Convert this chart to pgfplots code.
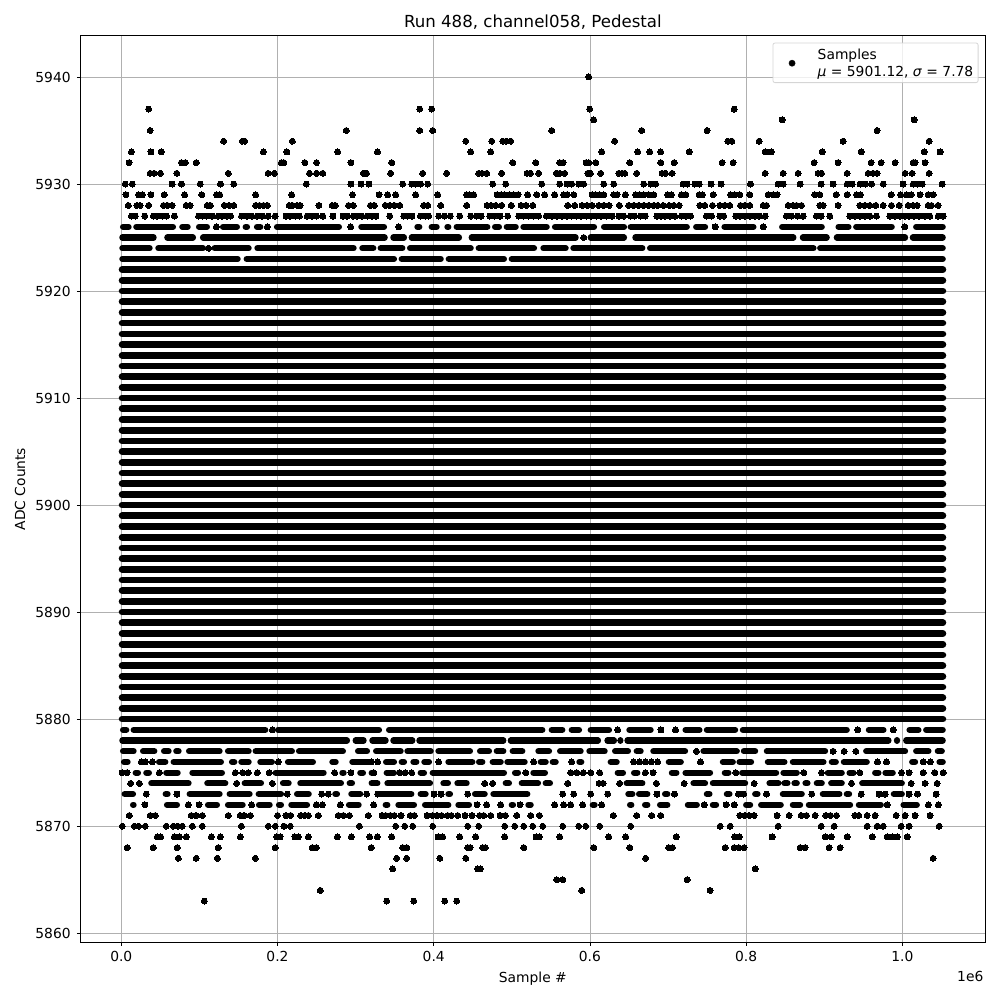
\documentclass[border=0pt]{standalone}
\usepackage{fontspec}
\setmainfont{DejaVu Sans}
\usepackage{pgfplots}
\pgfplotsset{compat=1.18}
\begin{document}
\begin{tikzpicture}[x=0.72bp,y=0.72bp]
\path[use as bounding box] (-80.4,-57.7) rectangle (919.6,942.3);
\begin{axis}[
  at={(0,0)},anchor=south west,scale only axis,
  width=651.53bp,height=652.68bp,
  xmin=-52370,xmax=1106290,ymin=5859.15,ymax=5943.85,
  xtick={0,200000,400000,600000,800000,1000000},
  xticklabels={0.0,0.2,0.4,0.6,0.8,1.0},
  scaled x ticks=false,
  ytick={5860,5870,5880,5890,5900,5910,5920,5930,5940},
  /pgf/number format/assume math mode=true,
  /pgf/number format/1000 sep={},
  y tick label style={/pgf/number format/fixed,xshift=-1bp},
  grid=major,
  grid style={color=black!31,line width=0.58bp},
  axis line style={line width=0.58bp},
  tick style={color=black,line width=0.58bp},
  major tick length=2.52bp,
  tick align=outside,tick pos=lower,
  xticklabel style={yshift=-0.5bp},
  unbounded coords=jump,
  clip=true,
  title={Run 488, channel058, Pedestal},
  title style={font=\fontsize{12}{14}\selectfont,yshift=-5.1bp},
  xlabel={Sample \#},ylabel={ADC Counts},
  xlabel style={yshift=-0.7bp},
  ylabel style={yshift=0.4bp},
  legend image code/.code={\fill[black,overlay,fill opacity=1] (12bp,-0.3bp) circle (2.16bp);\path (0,0) (28.2bp,0);},
  legend style={at={(0.9925,0.9925)},anchor=north east,
    draw=black!20,rounded corners=1.5bp,line width=0.58bp,
    fill=white,fill opacity=0.8,draw opacity=0.8,text opacity=1,
    inner xsep=1.5bp,inner ysep=1.5bp,font=\fontsize{10}{12}\selectfont},
  legend cell align=left,
]
\addplot[only marks,mark=*,mark size=2.16bp,black,mark options={draw=black,fill=black,line width=0pt}] coordinates {
(598.5e3,5940)
(35e3,5937)(382.1e3,5937)(397.4e3,5937)(599.7e3,5937)(784.7e3,5937)
(604.9e3,5936)(846.1e3,5936)(1015.1e3,5936)
(37e3,5935)(288e3,5935)(382.1e3,5935)(398.7e3,5935)(551.1e3,5935)(666.3e3,5935)(750.1e3,5935)(967.8e3,5935)
(131e3,5934)(155e3,5934)(158e3,5934)(219e3,5934)(441e3,5934)(474.3e3,5934)(488.3e3,5934)(493e3,5934)(498.6e3,5934)(631.7e3,5934)(776.6e3,5934)(781.7e3,5934)(816.7e3,5934)(924.2e3,5934)(1034.4e3,5934)
(13e3,5933)(38e3,5933)(51e3,5933)(182e3,5933)(212e3,5933)(277e3,5933)(328e3,5933)(447.4e3,5933)(473e3,5933)(615.1e3,5933)(661.2e3,5933)(676.6e3,5933)(690.6e3,5933)(727.1e3,5933)(824.4e3,5933)(832e3,5933)(897.4e3,5933)(947.3e3,5933)(1028e3,5933)(1048.4e3,5933)
(10e3,5932)(77e3,5932)(82e3,5932)(96e3,5932)(205e3,5932)(208e3,5932)(235e3,5932)(250e3,5932)(294e3,5932)(346.2e3,5932)(501.1e3,5932)(530.6e3,5932)(561.3e3,5932)(565.6e3,5932)(595e3,5932)(598.5e3,5932)(607.4e3,5932)(651e3,5932)(690.6e3,5932)(707.9e3,5932)(769.3e3,5932)(783.4e3,5932)(887.1e3,5932)(917.8e3,5932)(960.1e3,5932)(972.9e3,5932)(990.8e3,5932)(1013.9e3,5932)(1016.4e3,5932)(1029.2e3,5932)
(37e3,5931)(42e3,5931)(50e3,5931)(71e3,5931)(137e3,5931)(188e3,5931)(196e3,5931)(241e3,5931)(250e3,5931)(258e3,5931)(310e3,5931)(314e3,5931)(344.9e3,5931)(385.9e3,5931)(416.6e3,5931)(457.6e3,5931)(461.9e3,5931)(467.9e3,5931)(487e3,5931)(519.5e3,5931)(523.8e3,5931)(534.4e3,5931)(557.1e3,5931)(561.3e3,5931)(567.7e3,5931)(597.2e3,5931)(600.6e3,5931)(613.8e3,5931)(636.9e3,5931)(641.1e3,5931)(644.6e3,5931)(659.9e3,5931)(692.4e3,5931)(696.6e3,5931)(705.3e3,5931)(824.4e3,5931)(847.4e3,5931)(866.6e3,5931)(892.2e3,5931)(896.5e3,5931)(929.4e3,5931)(956.3e3,5931)(962.6e3,5931)(967.8e3,5931)(1003.6e3,5931)(1012.6e3,5931)(1034.4e3,5931)
(5e3,5930)(14e3,5930)(65e3,5930)(77e3,5930)(101e3,5930)(127e3,5930)(144e3,5930)(237e3,5930)(294e3,5930)(307e3,5930)(317e3,5930)(360.3e3,5930)(371.8e3,5930)(376.9e3,5930)(383.3e3,5930)(392.3e3,5930)(475.5e3,5930)(492.2e3,5930)(538.3e3,5930)(561.3e3,5930)(570.7e3,5930)(576.7e3,5930)(585.6e3,5930)(592e3,5930)(617.7e3,5930)(630.5e3,5930)(668.9e3,5930)(677.8e3,5930)(684.2e3,5930)(719.4e3,5930)(724.5e3,5930)(734.3e3,5930)(739.9e3,5930)(755.2e3,5930)(768e3,5930)(805.6e3,5930)(841e3,5930)(847.4e3,5930)(869.2e3,5930)(896.1e3,5930)(911.4e3,5930)(929.4e3,5930)(935.8e3,5930)(946e3,5930)(952.8e3,5930)(960.5e3,5930)(975.5e3,5930)(1001e3,5930)(1013.9e3,5930)(1019e3,5930)(1025.4e3,5930)(1051e3,5930)
(6e3,5929)(22e3,5929)(27e3,5929)(38e3,5929)(55e3,5929)(81e3,5929)(103e3,5929)(122e3,5929)(126e3,5929)(172e3,5929)(218e3,5929)(296e3,5929)(330e3,5929)(341.1e3,5929)(351.3e3,5929)(376.9e3,5929)(405.1e3,5929)(442.2e3,5929)(445.7e3,5929)(451.2e3,5929)(481.1e3,5929)(486.2e3,5929)(490.5e3,5929)(497.3e3,5929)(502.4e3,5929)(508e3,5929)(520.3e3,5929)(531.9e3,5929)(542.1e3,5929)(554.9e3,5929)(566.4e3,5929)(570.7e3,5929)(579.3e3,5929)(602.7e3,5929)(607e3,5929)(612.5e3,5929)(617.7e3,5929)(630.5e3,5929)(634.7e3,5929)(645.4e3,5929)(658.6e3,5929)(663.8e3,5929)(668.9e3,5929)(675.3e3,5929)(681.7e3,5929)(699.6e3,5929)(704.4e3,5929)(717.2e3,5929)(722.8e3,5929)(739.9e3,5929)(744.1e3,5929)(757.8e3,5929)(780e3,5929)(785.5e3,5929)(791.9e3,5929)(804.7e3,5929)(828.2e3,5929)(834.6e3,5929)(839.7e3,5929)(888e3,5929)(894.4e3,5929)(915.3e3,5929)(929.4e3,5929)(941.3e3,5929)(946.4e3,5929)(985.7e3,5929)(997.7e3,5929)(1005.3e3,5929)(1011.3e3,5929)(1022.8e3,5929)(1033.1e3,5929)(1039.5e3,5929)
(9e3,5928)(20e3,5928)(24e3,5928)(35e3,5928)(54e3,5928)(59e3,5928)(65e3,5928)(83e3,5928)(88e3,5928)(110e3,5928)(114e3,5928)(132e3,5928)(138e3,5928)(144e3,5928)(172e3,5928)(177e3,5928)(182e3,5928)(187e3,5928)(215e3,5928)(219e3,5928)(225e3,5928)(229e3,5928)(253e3,5928)(270e3,5928)(274e3,5928)(291e3,5928)(297e3,5928)(319e3,5928)(324e3,5928)(338.1e3,5928)(343.7e3,5928)(349.6e3,5928)(356.5e3,5928)(387.2e3,5928)(392.3e3,5928)(409e3,5928)(442.2e3,5928)(468.3e3,5928)(473.4e3,5928)(479.4e3,5928)(487e3,5928)(499.4e3,5928)(511.8e3,5928)(518.2e3,5928)(526.8e3,5928)(571.6e3,5928)(580.5e3,5928)(589.9e3,5928)(596.3e3,5928)(602.7e3,5928)(611.3e3,5928)(617.7e3,5928)(624.5e3,5928)(637.7e3,5928)(649.7e3,5928)(656.1e3,5928)(662.5e3,5928)(668.9e3,5928)(675.3e3,5928)(681.7e3,5928)(686.8e3,5928)(693.8e3,5928)(701.5e3,5928)(707.4e3,5928)(714.3e3,5928)(740.7e3,5928)(747.1e3,5928)(756.9e3,5928)(766.3e3,5928)(772.7e3,5928)(779.1e3,5928)(792.8e3,5928)(798.3e3,5928)(804.7e3,5928)(821.8e3,5928)(826.1e3,5928)(853.8e3,5928)(860.2e3,5928)(864.5e3,5928)(870.9e3,5928)(894.4e3,5928)(898.6e3,5928)(917.8e3,5928)(945.6e3,5928)(952e3,5928)(958.4e3,5928)(966.1e3,5928)(975.5e3,5928)(986.1e3,5928)(996e3,5928)(1007.5e3,5928)(1013.9e3,5928)(1019e3,5928)(1033.1e3,5928)(1037.3e3,5928)(1045.9e3,5928)
(13e3,5927)(18e3,5927)(30e3,5927)(41e3,5927)(46e3,5927)(53e3,5927)(58e3,5927)(68e3,5927)(99e3,5927)(104e3,5927)(109e3,5927)(116e3,5927)(124e3,5927)(129e3,5927)(135e3,5927)(140e3,5927)(154e3,5927)(161e3,5927)(167e3,5927)(174e3,5927)(180e3,5927)(188e3,5927)(197e3,5927)(211e3,5927)(216e3,5927)(223e3,5927)(228e3,5927)(238e3,5927)(244e3,5927)(250e3,5927)(258e3,5927)(271e3,5927)(284e3,5927)(289e3,5927)(297e3,5927)(302e3,5927)(308e3,5927)(315e3,5927)(321e3,5927)(326e3,5927)(343.7e3,5927)(361.6e3,5927)(366.7e3,5927)(372.2e3,5927)(382.9e3,5927)(389.3e3,5927)(393.6e3,5927)(406.4e3,5927)(413.6e3,5927)(421.3e3,5927)(433.3e3,5927)(447.4e3,5927)(454.6e3,5927)(460.6e3,5927)(471.7e3,5927)(477.7e3,5927)(484.9e3,5927)(494.7e3,5927)(508.8e3,5927)(515.2e3,5927)(521.6e3,5927)(528e3,5927)(534.4e3,5927)(544.2e3,5927)(551.5e3,5927)(557.9e3,5927)(564.3e3,5927)(570.7e3,5927)(576.3e3,5927)(582.7e3,5927)(588.6e3,5927)(595.5e3,5927)(601.4e3,5927)(608.3e3,5927)(614.2e3,5927)(621e3,5927)(628.3e3,5927)(636.9e3,5927)(643.3e3,5927)(651.8e3,5927)(656.9e3,5927)(664.6e3,5927)(671e3,5927)(685.9e3,5927)(691.1e3,5927)(695.9e3,5927)(702.3e3,5927)(708.7e3,5927)(717.2e3,5927)(722.8e3,5927)(728.8e3,5927)(749.3e3,5927)(755.7e3,5927)(766.3e3,5927)(771.4e3,5927)(786.8e3,5927)(791.9e3,5927)(798.3e3,5927)(804.7e3,5927)(811.1e3,5927)(816.7e3,5927)(824.4e3,5927)(851.7e3,5927)(858.1e3,5927)(865.8e3,5927)(873e3,5927)(890.1e3,5927)(896.1e3,5927)(907.2e3,5927)(932.8e3,5927)(939.2e3,5927)(945.6e3,5927)(952e3,5927)(958.4e3,5927)(966.9e3,5927)(984e3,5927)(990.4e3,5927)(996.8e3,5927)(1003.2e3,5927)(1008.7e3,5927)(1015.1e3,5927)(1021.5e3,5927)(1028.8e3,5927)(1035.2e3,5927)(1045.9e3,5927)(1052.3e3,5927)
(121.7e3,5926)(187e3,5926)(293.7e3,5926)(355.2e3,5926)(760.3e3,5926)(821.8e3,5926)(1003.2e3,5926)
(592.1e3,5925)(111.8e3,5924)
(193.4e3,5879)(635.6e3,5879)(691e3,5879)(709.6e3,5879)(943e3,5879)(988.3e3,5879)
(736.4e3,5877)(911.4e3,5877)(925.5e3,5877)(940.5e3,5877)
(25.6e3,5876)(30.8e3,5876)(39.7e3,5876)(201.1e3,5876)(320.2e3,5876)(328.3e3,5876)(406.4e3,5876)(528e3,5876)(576.7e3,5876)(656e3,5876)(663.7e3,5876)(671.4e3,5876)(678.7e3,5876)(686.8e3,5876)(741.6e3,5876)(968.2e3,5876)(979.7e3,5876)(1026.7e3,5876)(1036e3,5876)
(1e3,5875)(7.3e3,5875)(48.7e3,5875)(146e3,5875)(155.4e3,5875)(162.6e3,5875)(174.2e3,5875)(189.5e3,5875)(273.2e3,5875)(294.1e3,5875)(323.2e3,5875)(356.5e3,5875)(363.7e3,5875)(371.8e3,5875)(517.8e3,5875)(575.4e3,5875)(583.1e3,5875)(591.6e3,5875)(601e3,5875)(612.5e3,5875)(671e3,5875)(680.8e3,5875)(786.8e3,5875)(873.9e3,5875)(896.5e3,5875)(945.6e3,5875)(998.9e3,5875)(1008.7e3,5875)(1026.7e3,5875)(1041.6e3,5875)(1052.3e3,5875)
(12e3,5874)(23.1e3,5874)(147.7e3,5874)(193.4e3,5874)(465.3e3,5874)(475.5e3,5874)(571.6e3,5874)(611.7e3,5874)(616.8e3,5874)(638.1e3,5874)(685.1e3,5874)(720.7e3,5874)(810.3e3,5874)(934.9e3,5874)(1011.3e3,5874)(1029.2e3,5874)(1044.6e3,5874)
(32e3,5873)(71.3e3,5873)(212.6e3,5873)(256.5e3,5873)(265.1e3,5873)(314.1e3,5873)(328.2e3,5873)(400.4e3,5873)(409.4e3,5873)(443.5e3,5873)(565.2e3,5873)(579.2e3,5873)(601e3,5873)(622.8e3,5873)(685.9e3,5873)(708.3e3,5873)(790.2e3,5873)(797e3,5873)(826.1e3,5873)(884.1e3,5873)(947.3e3,5873)(970.3e3,5873)(978e3,5873)(1008.7e3,5873)(1019.4e3,5873)(1043.3e3,5873)
(30.3e3,5872)(85.8e3,5872)(99.5e3,5872)(166.9e3,5872)(249.7e3,5872)(257.4e3,5872)(280.4e3,5872)(323.1e3,5872)(455.5e3,5872)(467.8e3,5872)(485.8e3,5872)(510.5e3,5872)(554.9e3,5872)(566.4e3,5872)(575.4e3,5872)(590.8e3,5872)(615.1e3,5872)(746.3e3,5872)(774.4e3,5872)(784.7e3,5872)(980.6e3,5872)(1033.5e3,5872)(1046.3e3,5872)
(10.3e3,5871)(37.1e3,5871)(43.5e3,5871)(89.6e3,5871)(95.6e3,5871)(103.7e3,5871)(137e3,5871)(152.3e3,5871)(157.1e3,5871)(165.2e3,5871)(200.1e3,5871)(210.8e3,5871)(216.8e3,5871)(229.8e3,5871)(234.9e3,5871)(239.5e3,5871)(252.3e3,5871)(277.9e3,5871)(284.3e3,5871)(292e3,5871)(316.3e3,5871)(333.8e3,5871)(338.5e3,5871)(344.5e3,5871)(349.6e3,5871)(358.2e3,5871)(370.1e3,5871)(375.2e3,5871)(391.5e3,5871)(398.7e3,5871)(404.3e3,5871)(410.2e3,5871)(417.9e3,5871)(422.6e3,5871)(430.7e3,5871)(440.1e3,5871)(449.1e3,5871)(458.9e3,5871)(464e3,5871)(473e3,5871)(484.9e3,5871)(491.8e3,5871)(506.3e3,5871)(524.2e3,5871)(535.3e3,5871)(630e3,5871)(659.9e3,5871)(679.1e3,5871)(690.6e3,5871)(791.9e3,5871)(798.3e3,5871)(803.9e3,5871)(810.3e3,5871)(839.7e3,5871)(855.1e3,5871)(870.5e3,5871)(877.3e3,5871)(888.4e3,5871)(902e3,5871)(908e3,5871)(915.7e3,5871)(939.2e3,5871)(944.3e3,5871)(955e3,5871)(965.2e3,5871)(992.1e3,5871)(1003.6e3,5871)(1016.4e3,5871)(1035.6e3,5871)
(1.3e3,5870)(16.7e3,5870)(22.2e3,5870)(30.7e3,5870)(57.6e3,5870)(66.6e3,5870)(72.2e3,5870)(78.1e3,5870)(91e3,5870)(103.7e3,5870)(153.7e3,5870)(188.2e3,5870)(197.2e3,5870)(208.3e3,5870)(216.4e3,5870)(304.8e3,5870)(351.3e3,5870)(362.9e3,5870)(373.1e3,5870)(398.7e3,5870)(443.5e3,5870)(457.6e3,5870)(490.9e3,5870)(503.7e3,5870)(515.2e3,5870)(526.8e3,5870)(539.6e3,5870)(565.2e3,5870)(585.6e3,5870)(594.6e3,5870)(612.5e3,5870)(652.2e3,5870)(766.8e3,5870)(779.6e3,5870)(841e3,5870)(896.1e3,5870)(912.7e3,5870)(955e3,5870)(967.8e3,5870)(975.5e3,5870)(998.5e3,5870)(1008.7e3,5870)(1047.2e3,5870)
(46.1e3,5869)(50.4e3,5869)(67.9e3,5869)(74.3e3,5869)(83.2e3,5869)(115.3e3,5869)(126.8e3,5869)(152.4e3,5869)(198.9e3,5869)(203.2e3,5869)(222.4e3,5869)(226.7e3,5869)(239.5e3,5869)(276.6e3,5869)(294.5e3,5869)(318e3,5869)(327.8e3,5869)(346.2e3,5869)(405.5e3,5869)(411.5e3,5869)(433.3e3,5869)(453.8e3,5869)(490.9e3,5869)(531e3,5869)(535.3e3,5869)(561.3e3,5869)(624.1e3,5869)(645.8e3,5869)(710.4e3,5869)(785.5e3,5869)(791.1e3,5869)(833.3e3,5869)(901.2e3,5869)(908.9e3,5869)(929.4e3,5869)(961.4e3,5869)(980.6e3,5869)(987.4e3,5869)(993.4e3,5869)(1006.2e3,5869)
(7.7e3,5868)(41e3,5868)(71.7e3,5868)(124.2e3,5868)(197.2e3,5868)(244.6e3,5868)(249.7e3,5868)(320.1e3,5868)(360.3e3,5868)(365.4e3,5868)(443.5e3,5868)(446.5e3,5868)(462.7e3,5868)(466.1e3,5868)(515.2e3,5868)(604.9e3,5868)(651e3,5868)(700.9e3,5868)(705.7e3,5868)(773.2e3,5868)(784.7e3,5868)(790.6e3,5868)(797.5e3,5868)(869.2e3,5868)(875.6e3,5868)(906.3e3,5868)(920.4e3,5868)
(73e3,5867)(96e3,5867)(123e3,5867)(171.6e3,5867)(352.6e3,5867)(365.4e3,5867)(407.7e3,5867)(441e3,5867)(671.4e3,5867)(1039.5e3,5867)
(347.5e3,5866)(456.3e3,5866)(459.7e3,5866)(811.6e3,5866)
(557.5e3,5865)(565.2e3,5865)(724.5e3,5865)
(254.8e3,5864)(589.5e3,5864)(753.9e3,5864)
(106.3e3,5863)(339.8e3,5863)(374.4e3,5863)(414.1e3,5863)(429.4e3,5863)
};
\addlegendentry{\begin{tabular}{@{}l@{}}Samples\\\textit{μ} = 5901.12, \textit{σ} = 7.78\rule[-14.8bp]{0pt}{14.8bp}\end{tabular}}
% sparse rows drawn as runs of overlapping samples
\addplot[forget plot,black,line width=4.4bp,line cap=round] coordinates {
(2.2e3,5926)(9.4e3,5926)(0,nan)(19.2e3,5926)(66.2e3,5926)(0,nan)(78.1e3,5926)(85e3,5926)(0,nan)(99.5e3,5926)(109.7e3,5926)(0,nan)(130.2e3,5926)(148.1e3,5926)(0,nan)(159.2e3,5926)(161e3,5926)(0,nan)(173.7e3,5926)(178e3,5926)(0,nan)(199.3e3,5926)(278.7e3,5926)(0,nan)(307.3e3,5926)(336.4e3,5926)(0,nan)(379.1e3,5926)(381.6e3,5926)(0,nan)(397.4e3,5926)(403.8e3,5926)(0,nan)(417.5e3,5926)(418.8e3,5926)(0,nan)(429.4e3,5926)(468.7e3,5926)(0,nan)(478.5e3,5926)(483.6e3,5926)(0,nan)(493.5e3,5926)(505e3,5926)(0,nan)(514.8e3,5926)(544.7e3,5926)(0,nan)(555.3e3,5926)(605.3e3,5926)(0,nan)(618.1e3,5926)(643.7e3,5926)(0,nan)(652.2e3,5926)(724.1e3,5926)(0,nan)(736e3,5926)(747.5e3,5926)(0,nan)(772.3e3,5926)(809.4e3,5926)(0,nan)(846.1e3,5926)(896.9e3,5926)(0,nan)(918.3e3,5926)(931.1e3,5926)(0,nan)(940.9e3,5926)(986.5e3,5926)(0,nan)(1017.7e3,5926)(1051.8e3,5926)(0,nan)
(1.3e3,5925)(41.4e3,5925)(0,nan)(58.9e3,5925)(91.8e3,5925)(0,nan)(104.6e3,5925)(337.3e3,5925)(0,nan)(348.3e3,5925)(362e3,5925)(0,nan)(371.8e3,5925)(432.4e3,5925)(0,nan)(448.6e3,5925)(581.8e3,5925)(0,nan)(601e3,5925)(643.7e3,5925)(0,nan)(658.2e3,5925)(860.6e3,5925)(0,nan)(872.6e3,5925)(903.3e3,5925)(0,nan)(916.1e3,5925)(1003.6e3,5925)(0,nan)(1013.4e3,5925)(1051.8e3,5925)(0,nan)
(1.3e3,5924)(36.3e3,5924)(0,nan)(47.4e3,5924)(104.6e3,5924)(0,nan)(119.5e3,5924)(163.1e3,5924)(0,nan)(174.2e3,5924)(297.5e3,5924)(0,nan)(308.6e3,5924)(322.7e3,5924)(0,nan)(332.1e3,5924)(359.9e3,5924)(0,nan)(369.7e3,5924)(447.4e3,5924)(0,nan)(457.6e3,5924)(528.5e3,5924)(0,nan)(540.4e3,5924)(569e3,5924)(0,nan)(578.8e3,5924)(667.2e3,5924)(0,nan)(677e3,5924)(886.3e3,5924)(0,nan)(894.8e3,5924)(1051.8e3,5924)(0,nan)
(1.3e3,5923)(149e3,5923)(0,nan)(160.5e3,5923)(349.2e3,5923)(0,nan)(359e3,5923)(409e3,5923)(0,nan)(419.2e3,5923)(490e3,5923)(0,nan)(499.9e3,5923)(1051.8e3,5923)(0,nan)
(2.2e3,5879)(6.4e3,5879)(0,nan)(15.8e3,5879)(184.4e3,5879)(0,nan)(200.6e3,5879)(330e3,5879)(0,nan)(342.8e3,5879)(539.1e3,5879)(0,nan)(551.1e3,5879)(564.7e3,5879)(0,nan)(576.7e3,5879)(586.1e3,5879)(0,nan)(601e3,5879)(624.5e3,5879)(0,nan)(650.5e3,5879)(677.8e3,5879)(0,nan)(722.4e3,5879)(740.3e3,5879)(0,nan)(749.7e3,5879)(786e3,5879)(0,nan)(795.8e3,5879)(928.9e3,5879)(0,nan)(957.1e3,5879)(975.9e3,5879)(0,nan)(1009.2e3,5879)(1020.7e3,5879)(0,nan)(1030.5e3,5879)(1051.8e3,5879)(0,nan)
(1.3e3,5878)(289e3,5878)(0,nan)(300e3,5878)(310.3e3,5878)(0,nan)(321.4e3,5878)(338.5e3,5878)(0,nan)(348.3e3,5878)(372.7e3,5878)(0,nan)(381.6e3,5878)(489.2e3,5878)(0,nan)(498.6e3,5878)(610.4e3,5878)(0,nan)(622.4e3,5878)(630.9e3,5878)(0,nan)(639e3,5878)(639.1e3,5878)(0,nan)(648e3,5878)(982.3e3,5878)(0,nan)(993e3,5878)(993.4e3,5878)(0,nan)(1004.9e3,5878)(1051.8e3,5878)(0,nan)
(2.2e3,5877)(15.8e3,5877)(0,nan)(27.8e3,5877)(42.3e3,5877)(0,nan)(54.7e3,5877)(60.6e3,5877)(0,nan)(70.4e3,5877)(73.4e3,5877)(0,nan)(86.7e3,5877)(125.9e3,5877)(0,nan)(136.6e3,5877)(163.1e3,5877)(0,nan)(172e3,5877)(218.5e3,5877)(0,nan)(227.5e3,5877)(283.8e3,5877)(0,nan)(303.1e3,5877)(314.6e3,5877)(0,nan)(326.2e3,5877)(357.7e3,5877)(0,nan)(366.3e3,5877)(396.2e3,5877)(0,nan)(406e3,5877)(446.5e3,5877)(0,nan)(459.3e3,5877)(470.8e3,5877)(0,nan)(480.7e3,5877)(489.2e3,5877)(0,nan)(501.1e3,5877)(513.5e3,5877)(0,nan)(534e3,5877)(547.7e3,5877)(0,nan)(561.8e3,5877)(588.2e3,5877)(0,nan)(599.3e3,5877)(618.9e3,5877)(0,nan)(632.2e3,5877)(648.8e3,5877)(0,nan)(659.9e3,5877)(665e3,5877)(0,nan)(681.2e3,5877)(721.9e3,5877)(0,nan)(745.4e3,5877)(788.1e3,5877)(0,nan)(797.1e3,5877)(811.6e3,5877)(0,nan)(826.5e3,5877)(901.2e3,5877)(0,nan)(953.7e3,5877)(1003.6e3,5877)(0,nan)(1017.7e3,5877)(1033.5e3,5877)(0,nan)(1045.4e3,5877)(1050.6e3,5877)(0,nan)
(3.4e3,5876)(8.1e3,5876)(0,nan)(48.3e3,5876)(56.4e3,5876)(0,nan)(67e3,5876)(127.6e3,5876)(0,nan)(141.7e3,5876)(144.7e3,5876)(0,nan)(153.7e3,5876)(163.1e3,5876)(0,nan)(178e3,5876)(192.9e3,5876)(0,nan)(213.4e3,5876)(245.4e3,5876)(0,nan)(270.2e3,5876)(274.5e3,5876)(0,nan)(295.8e3,5876)(318.8e3,5876)(0,nan)(339e3,5876)(349.2e3,5876)(0,nan)(359e3,5876)(362e3,5876)(0,nan)(374e3,5876)(377.8e3,5876)(0,nan)(388e3,5876)(394e3,5876)(0,nan)(418.8e3,5876)(449.5e3,5876)(0,nan)(458e3,5876)(462.3e3,5876)(0,nan)(475.5e3,5876)(485.8e3,5876)(0,nan)(494.3e3,5876)(516.5e3,5876)(0,nan)(537e3,5876)(543.4e3,5876)(0,nan)(552.4e3,5876)(556.2e3,5876)(0,nan)(586.5e3,5876)(589e3,5876)(0,nan)(626.6e3,5876)(634.3e3,5876)(0,nan)(701e3,5876)(716.4e3,5876)(0,nan)(770.2e3,5876)(783e3,5876)(0,nan)(791.5e3,5876)(806.4e3,5876)(0,nan)(827.8e3,5876)(849.1e3,5876)(0,nan)(859.8e3,5876)(899.1e3,5876)(0,nan)(909.7e3,5876)(914.9e3,5876)(0,nan)(925.1e3,5876)(954.5e3,5876)(0,nan)(1012.6e3,5876)(1016.4e3,5876)(0,nan)(1047.6e3,5876)(1051.8e3,5876)(0,nan)
(18.4e3,5875)(21.4e3,5875)(0,nan)(32e3,5875)(35.4e3,5875)(0,nan)(57.6e3,5875)(72.2e3,5875)(0,nan)(91e3,5875)(128.9e3,5875)(0,nan)(197.6e3,5875)(259.1e3,5875)(0,nan)(283e3,5875)(284.7e3,5875)(0,nan)(306e3,5875)(309.5e3,5875)(0,nan)(320.5e3,5875)(323.1e3,5875)(0,nan)(339.8e3,5875)(349.2e3,5875)(0,nan)(383.3e3,5875)(387.6e3,5875)(0,nan)(398.7e3,5875)(490e3,5875)(0,nan)(504.1e3,5875)(508e3,5875)(0,nan)(527.6e3,5875)(542.5e3,5875)(0,nan)(635.6e3,5875)(642.4e3,5875)(0,nan)(656.5e3,5875)(660.8e3,5875)(0,nan)(704.9e3,5875)(710.8e3,5875)(0,nan)(722.4e3,5875)(753.9e3,5875)(0,nan)(772.7e3,5875)(777.4e3,5875)(0,nan)(794.9e3,5875)(838.5e3,5875)(0,nan)(847.8e3,5875)(864.9e3,5875)(0,nan)(904.6e3,5875)(922.5e3,5875)(0,nan)(932.4e3,5875)(937.5e3,5875)(0,nan)(965.2e3,5875)(969.5e3,5875)(0,nan)(978.4e3,5875)(987.8e3,5875)(0,nan)
(38.4e3,5874)(86.2e3,5874)(0,nan)(110.1e3,5874)(133.2e3,5874)(0,nan)(158e3,5874)(178.9e3,5874)(0,nan)(207e3,5874)(214.3e3,5874)(0,nan)(229.2e3,5874)(281.3e3,5874)(0,nan)(292.4e3,5874)(295.4e3,5874)(0,nan)(320.5e3,5874)(327.9e3,5874)(0,nan)(340.7e3,5874)(395.3e3,5874)(0,nan)(412.4e3,5874)(418.3e3,5874)(0,nan)(430.3e3,5874)(442.2e3,5874)(0,nan)(492.2e3,5874)(496.4e3,5874)(0,nan)(512.7e3,5874)(533.6e3,5874)(0,nan)(543.4e3,5874)(548.9e3,5874)(0,nan)(647.1e3,5874)(667.2e3,5874)(0,nan)(732.6e3,5874)(747.5e3,5874)(0,nan)(757.4e3,5874)(798.8e3,5874)(0,nan)(829.9e3,5874)(841.4e3,5874)(0,nan)(849.1e3,5874)(853e3,5874)(0,nan)(861.9e3,5874)(864.9e3,5874)(0,nan)(876e3,5874)(878.6e3,5874)(0,nan)(890.5e3,5874)(896.9e3,5874)(0,nan)(908.9e3,5874)(922.5e3,5874)(0,nan)(948.6e3,5874)(999.4e3,5874)(0,nan)
(4.3e3,5873)(15e3,5873)(0,nan)(56.8e3,5873)(59.3e3,5873)(0,nan)(87.5e3,5873)(125.9e3,5873)(0,nan)(138.7e3,5873)(164.3e3,5873)(0,nan)(175.9e3,5873)(204.5e3,5873)(0,nan)(225e3,5873)(240e3,5873)(0,nan)(274e3,5873)(276.2e3,5873)(0,nan)(294.5e3,5873)(306e3,5873)(0,nan)(329.1e3,5873)(371.4e3,5873)(0,nan)(383.3e3,5873)(389.7e3,5873)(0,nan)(418.8e3,5873)(420.9e3,5873)(0,nan)(452.9e3,5873)(465.3e3,5873)(0,nan)(476.4e3,5873)(519.9e3,5873)(0,nan)(649.2e3,5873)(654.4e3,5873)(0,nan)(662.9e3,5873)(673.6e3,5873)(0,nan)(696.2e3,5873)(699.2e3,5873)(0,nan)(749.7e3,5873)(753.1e3,5873)(0,nan)(775.3e3,5873)(778.7e3,5873)(0,nan)(811.6e3,5873)(814.6e3,5873)(0,nan)(847e3,5873)(871.3e3,5873)(0,nan)(898.2e3,5873)(919.5e3,5873)(0,nan)(928.9e3,5873)(931.9e3,5873)(0,nan)(989.1e3,5873)(999.4e3,5873)(0,nan)
(15e3,5872)(15.8e3,5872)(0,nan)(58.5e3,5872)(71.3e3,5872)(0,nan)(111e3,5872)(122.5e3,5872)(0,nan)(136.6e3,5872)(155.4e3,5872)(0,nan)(176.3e3,5872)(190e3,5872)(0,nan)(201.9e3,5872)(204.5e3,5872)(0,nan)(217.7e3,5872)(237.8e3,5872)(0,nan)(291.5e3,5872)(303.9e3,5872)(0,nan)(338.5e3,5872)(340.7e3,5872)(0,nan)(354.8e3,5872)(374.8e3,5872)(0,nan)(388.9e3,5872)(418.8e3,5872)(0,nan)(431.6e3,5872)(445.2e3,5872)(0,nan)(499.9e3,5872)(501.6e3,5872)(0,nan)(521.2e3,5872)(524.2e3,5872)(0,nan)(603.6e3,5872)(606.1e3,5872)(0,nan)(651.4e3,5872)(653.1e3,5872)(0,nan)(670.6e3,5872)(673.6e3,5872)(0,nan)(689.8e3,5872)(699.2e3,5872)(0,nan)(725.4e3,5872)(736.9e3,5872)(0,nan)(757.4e3,5872)(761.6e3,5872)(0,nan)(800e3,5872)(805.2e3,5872)(0,nan)(819.2e3,5872)(844.4e3,5872)(0,nan)(859.8e3,5872)(869.2e3,5872)(0,nan)(880.3e3,5872)(933.2e3,5872)(0,nan)(944.3e3,5872)(972.5e3,5872)(0,nan)(1001.5e3,5872)(1018.6e3,5872)
};
% the levels that are solid from end to end
\addplot[forget plot,black,line width=4.8bp,line cap=round] coordinates {
(1e3,5880)(1052e3,5880)(0,nan)(1e3,5881)(1052e3,5881)(0,nan)(1e3,5882)(1052e3,5882)(0,nan)(1e3,5883)(1052e3,5883)(0,nan)(1e3,5884)(1052e3,5884)(0,nan)(1e3,5885)(1052e3,5885)(0,nan)(1e3,5886)(1052e3,5886)(0,nan)(1e3,5887)(1052e3,5887)(0,nan)(1e3,5888)(1052e3,5888)(0,nan)(1e3,5889)(1052e3,5889)(0,nan)
(1e3,5890)(1052e3,5890)(0,nan)(1e3,5891)(1052e3,5891)(0,nan)(1e3,5892)(1052e3,5892)(0,nan)(1e3,5893)(1052e3,5893)(0,nan)(1e3,5894)(1052e3,5894)(0,nan)(1e3,5895)(1052e3,5895)(0,nan)(1e3,5896)(1052e3,5896)(0,nan)(1e3,5897)(1052e3,5897)(0,nan)(1e3,5898)(1052e3,5898)(0,nan)(1e3,5899)(1052e3,5899)(0,nan)
(1e3,5900)(1052e3,5900)(0,nan)(1e3,5901)(1052e3,5901)(0,nan)(1e3,5902)(1052e3,5902)(0,nan)(1e3,5903)(1052e3,5903)(0,nan)(1e3,5904)(1052e3,5904)(0,nan)(1e3,5905)(1052e3,5905)(0,nan)(1e3,5906)(1052e3,5906)(0,nan)(1e3,5907)(1052e3,5907)(0,nan)(1e3,5908)(1052e3,5908)(0,nan)(1e3,5909)(1052e3,5909)(0,nan)
(1e3,5910)(1052e3,5910)(0,nan)(1e3,5911)(1052e3,5911)(0,nan)(1e3,5912)(1052e3,5912)(0,nan)(1e3,5913)(1052e3,5913)(0,nan)(1e3,5914)(1052e3,5914)(0,nan)(1e3,5915)(1052e3,5915)(0,nan)(1e3,5916)(1052e3,5916)(0,nan)(1e3,5917)(1052e3,5917)(0,nan)(1e3,5918)(1052e3,5918)(0,nan)(1e3,5919)(1052e3,5919)(0,nan)
(1e3,5920)(1052e3,5920)(0,nan)(1e3,5921)(1052e3,5921)(0,nan)(1e3,5922)(1052e3,5922)
};
\end{axis}
\node[anchor=east,inner sep=0pt] at (903.2,-34) {1e6};
\end{tikzpicture}
\end{document}
